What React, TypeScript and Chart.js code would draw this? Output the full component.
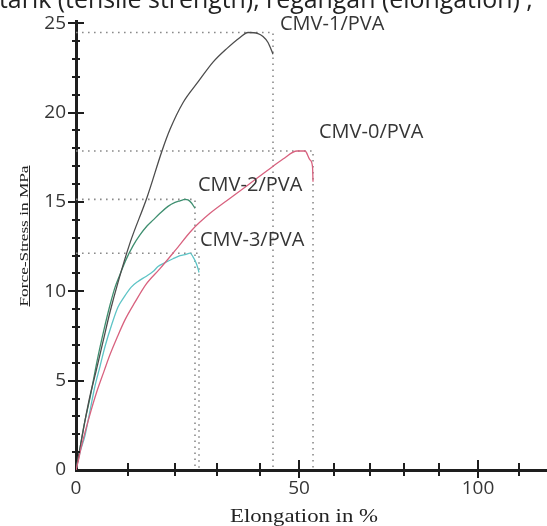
import React, { useEffect, useRef } from 'react';
import { Chart, registerables, LinearScale } from 'chart.js';

Chart.register(...registerables);

// ---------------- data (elongation %, stress MPa) ----------------
const CMV0_X = [0, 0.38, 0.96, 1.73, 2.88, 4.04, 5.38, 6.54, 7.88, 9.42, 11.49, 13.83, 16.81, 20.0, 24.05, 28.33, 32.33, 36.98, 41.79, 45.9, 49.49, 51.71, 53.14, 53.86, 54.0];
const CMV0_Y = [0, 0.44, 1.22, 2.1, 3.31, 4.42, 5.52, 6.46, 7.4, 8.4, 9.39, 10.39, 11.27, 12.27, 13.43, 14.36, 15.08, 15.91, 16.74, 17.4, 17.85, 17.85, 17.35, 16.96, 16.13];

const CMV1_X = [0, 0.77, 1.73, 2.69, 3.85, 5.19, 6.54, 8.08, 10.43, 14.04, 17.23, 18.94, 21.9, 25.48, 29.05, 32.33, 35.35, 37.21, 39.53, 40.77, 42.05, 42.82, 43.33];
const CMV1_Y = [0, 1.22, 2.76, 4.14, 5.52, 7.18, 8.84, 10.5, 12.71, 15.25, 17.85, 19.06, 20.55, 21.71, 22.82, 23.59, 24.2, 24.48, 24.42, 24.25, 23.92, 23.54, 23.26];

const CMV2_X = [0, 0.77, 1.54, 2.69, 4.04, 5.38, 6.54, 7.5, 8.46, 9.62, 11.06, 12.55, 14.04, 15.32, 16.81, 18.51, 20.0, 21.19, 22.38, 23.1, 23.93, 24.76];
const CMV2_Y = [0, 1.22, 2.49, 4.03, 6.08, 7.85, 9.23, 10.22, 10.94, 11.77, 12.54, 13.15, 13.65, 13.98, 14.36, 14.75, 14.97, 15.06, 15.14, 15.11, 14.94, 14.64];

const CMV3_X = [0, 0.77, 1.73, 2.69, 3.65, 4.62, 5.58, 6.92, 8.08, 9.23, 10.64, 12.13, 13.83, 15.32, 16.38, 17.87, 19.57, 21.19, 22.62, 23.57, 24.29, 25.0, 25.48, 25.71];
const CMV3_Y = [0, 0.99, 1.93, 3.31, 4.7, 5.8, 6.91, 8.18, 9.12, 9.67, 10.22, 10.55, 10.83, 11.1, 11.38, 11.6, 11.82, 11.99, 12.07, 12.13, 11.93, 11.6, 11.27, 11.05];

const SERIES_NAMES = ['CMV-0/PVA', 'CMV-1/PVA', 'CMV-2/PVA', 'CMV-3/PVA'];
const SERIES_COLORS = ['#d8627f', '#4d4d4d', '#3f8f70', '#5ec4c6'];

const X_LABEL_TICKS = [0, 50, 100];
const X_MINOR_TICKS = [10, 20, 30, 40, 60, 70, 80, 90, 110];
const Y_LABEL_TICKS = [0, 5, 10, 15, 20, 25];
const Y_MAX = 25.1;

// The reference's elongation axis is not evenly spaced: these knots describe it.
const X_KNOT_VALUES = [0, 10, 20, 30, 40, 50, 60, 70, 80, 90, 100, 110, 116.8];
const X_KNOT_FRACTIONS = [0, 0.1104, 0.2102, 0.2994, 0.3907, 0.4735, 0.5478, 0.6242, 0.6964, 0.7707, 0.8535, 0.9406, 1];

// label offsets (px) relative to each curve's break point / peak
const LABEL_OFFSETS = [[6, -19], [7, -8], [3, -14], [1, -13]];

const TOP_TEXT = 'tarik (tensile strength), regangan (elongation) ,';
const X_TITLE = 'Elongation in %';
const Y_TITLE = 'Force-Stress in MPa';

// ---------------- scale ----------------
function piecewise(v: number, from: number[], to: number[]): number {
  const n = from.length;
  let i = 1;
  while (i < n - 1 && v > from[i]) i++;
  const t = (v - from[i - 1]) / (from[i] - from[i - 1]);
  return to[i - 1] + t * (to[i] - to[i - 1]);
}

class WarpedScale extends LinearScale {
  static id = 'warped';
  static defaults = LinearScale.defaults;
  getPixelForValue(value: any) {
    if (value === null || value === undefined || isNaN(value)) return NaN;
    return this.getPixelForDecimal(piecewise(value, X_KNOT_VALUES, X_KNOT_FRACTIONS));
  }
  getValueForPixel(pixel: number) {
    return piecewise(this.getDecimalForPixel(pixel), X_KNOT_FRACTIONS, X_KNOT_VALUES);
  }
}
Chart.register(WarpedScale as any);

// ---------------- helpers ----------------
const SERIES_X = [CMV0_X, CMV1_X, CMV2_X, CMV3_X];
const SERIES_Y = [CMV0_Y, CMV1_Y, CMV2_Y, CMV3_Y];

function pts(xs: number[], ys: number[]) {
  return xs.map((x, i) => ({ x, y: ys[i] }));
}
function guide(xs: number[], ys: number[]) {
  const peak = Math.max(...ys);
  const end = xs[xs.length - 1];
  return [{ x: 0, y: peak }, { x: end, y: peak }, { x: end, y: 0 }];
}

const AXIS_COLOR = '#1e1e1e';
const TEXT_COLOR = '#363636';

const decorPlugin = {
  id: 'decor',
  afterDraw(chart: any) {
    const { ctx, chartArea, scales } = chart;
    const xs = scales.x;
    const ys = scales.y;
    const ax = chartArea.left;
    const ay = chartArea.bottom;
    ctx.save();
    ctx.strokeStyle = AXIS_COLOR;
    ctx.lineWidth = 2;
    // y ticks
    for (let v = 1; v <= 25; v++) {
      const py = Math.round(ys.getPixelForValue(v));
      const major = v % 5 === 0;
      ctx.beginPath();
      ctx.moveTo(ax - (major ? 8 : 4), py);
      ctx.lineTo(ax + (major ? 8 : 4), py);
      ctx.stroke();
    }
    // x ticks
    const allX = [...X_MINOR_TICKS, ...X_LABEL_TICKS.filter((v) => v !== 0)];
    for (const v of allX) {
      const px = Math.round(xs.getPixelForValue(v));
      const major = X_LABEL_TICKS.includes(v);
      ctx.beginPath();
      ctx.moveTo(px, ay - (major ? 10 : 7));
      ctx.lineTo(px, ay + (major ? 8 : 6));
      ctx.stroke();
    }
    // series labels
    ctx.fillStyle = TEXT_COLOR;
    ctx.font = '20px "Open Sans"';
    ctx.textAlign = 'left';
    ctx.textBaseline = 'middle';
    SERIES_NAMES.forEach((name, i) => {
      const xsr = SERIES_X[i];
      const ysr = SERIES_Y[i];
      const bx = xs.getPixelForValue(xsr[xsr.length - 1]);
      const py = ys.getPixelForValue(Math.max(...ysr));
      ctx.fillText(name, bx + LABEL_OFFSETS[i][0], py + LABEL_OFFSETS[i][1]);
    });
    // top clipped caption
    ctx.font = '20px "Open Sans"';
    ctx.textBaseline = 'alphabetic';
    const w0 = ctx.measureText(TOP_TEXT).width;
    const fs = (20 * 534) / w0;
    ctx.font = `${fs.toFixed(2)}px "Open Sans"`;
    ctx.fillStyle = '#222';
    ctx.fillText(TOP_TEXT, -1, 8);
    // x title (stretched serif)
    ctx.fillStyle = '#222';
    ctx.font = '18px "Liberation Serif"';
    ctx.textAlign = 'center';
    const wx = ctx.measureText(X_TITLE).width;
    ctx.save();
    ctx.translate(304, 522);
    ctx.scale(148 / wx, 1);
    ctx.fillText(X_TITLE, 0, 0);
    ctx.restore();
    // y title (stretched serif, underlined)
    ctx.font = '11.5px "Liberation Serif"';
    const wy = ctx.measureText(Y_TITLE).width;
    ctx.save();
    ctx.translate(28, 236);
    ctx.rotate(-Math.PI / 2);
    ctx.scale(141 / wy, 1);
    ctx.fillText(Y_TITLE, 0, 0);
    ctx.restore();
    ctx.strokeStyle = '#222';
    ctx.lineWidth = 1;
    ctx.beginPath();
    ctx.moveTo(29.5, 236 - 70.5);
    ctx.lineTo(29.5, 236 + 70.5);
    ctx.stroke();
    ctx.restore();
  },
};

export default function App() {
  const ref = useRef<HTMLCanvasElement>(null);
  useEffect(() => {
    const datasets: any[] = [];
    SERIES_NAMES.forEach((name, i) => {
      datasets.push({
        label: name,
        data: pts(SERIES_X[i], SERIES_Y[i]),
        borderColor: SERIES_COLORS[i],
        borderWidth: 1.3,
        pointRadius: 0,
        cubicInterpolationMode: 'monotone',
        fill: false,
      });
    });
    SERIES_NAMES.forEach((name, i) => {
      datasets.push({
        label: name + ' guide',
        data: guide(SERIES_X[i], SERIES_Y[i]),
        borderColor: '#8a8a8a',
        borderWidth: 1.6,
        borderDash: [1.6, 4.4],
        pointRadius: 0,
        tension: 0,
        fill: false,
      });
    });
    const chart = new Chart(ref.current as HTMLCanvasElement, {
      type: 'line',
      data: { datasets },
      plugins: [decorPlugin],
      options: {
        animation: false,
        responsive: false,
        layout: { padding: { top: 16, left: 0, right: 0, bottom: 0 } },
        plugins: { legend: { display: false }, tooltip: { enabled: false } },
        scales: {
          x: {
            type: 'warped' as any,
            min: 0,
            max: X_KNOT_VALUES[X_KNOT_VALUES.length - 1],
            afterFit: (s: any) => { s.height = 56; },
            afterBuildTicks: (s: any) => { s.ticks = X_LABEL_TICKS.map((v) => ({ value: v })); },
            grid: { display: false, drawTicks: false },
            border: { display: true, color: AXIS_COLOR, width: 3 },
            ticks: {
              autoSkip: false,
              maxRotation: 0,
              padding: 7,
              color: TEXT_COLOR,
              font: { family: '"Open Sans"', size: 19 },
              callback: (v: any) => String(v),
            },
          },
          y: {
            type: 'linear',
            min: 0,
            max: Y_MAX,
            afterFit: (s: any) => { s.width = 76; },
            afterBuildTicks: (s: any) => { s.ticks = Y_LABEL_TICKS.map((v) => ({ value: v })); },
            grid: { display: false, drawTicks: false },
            border: { display: true, color: AXIS_COLOR, width: 3 },
            ticks: {
              autoSkip: false,
              padding: 10,
              color: TEXT_COLOR,
              font: { family: '"Open Sans"', size: 19 },
              callback: (v: any) => String(v),
            },
          },
        },
      },
    });
    return () => chart.destroy();
  }, []);
  return (
    <div style={{ position: 'absolute', left: 0, top: 0, width: 547, height: 526, background: '#fff' }}>
      <canvas ref={ref} width={547} height={526} style={{ display: 'block' }} />
    </div>
  );
}
